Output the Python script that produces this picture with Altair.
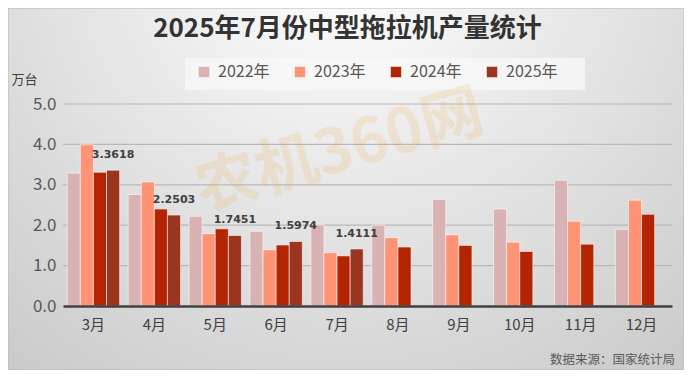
import altair as alt
import pandas as pd

months = ["3月", "4月", "5月", "6月", "7月", "8月", "9月", "10月", "11月", "12月"]
years = ["2022年", "2023年", "2024年", "2025年"]
v2022 = [3.29, 2.76, 2.22, 1.85, 2.01, 2.00, 2.64, 2.40, 3.11, 1.90]
v2023 = [3.99, 3.07, 1.79, 1.39, 1.32, 1.69, 1.76, 1.58, 2.10, 2.62]
v2024 = [3.31, 2.40, 1.91, 1.51, 1.24, 1.46, 1.50, 1.35, 1.53, 2.27]
v2025 = [3.3618, 2.2503, 1.7451, 1.5974, 1.4111]
colors = ["#d9b3b3", "#ff9375", "#b32400", "#9c3520"]
grid_values = [1, 2, 3, 4, 5]
title_text = "2025年7月份中型拖拉机产量统计"

rows = []
for series, yr in zip([v2022, v2023, v2024, v2025], years):
    for m, v in zip(months, series):
        rows.append({"月份": m, "年份": yr, "产量": v})
df = pd.DataFrame(rows)
lab = df[df["年份"] == "2025年"].copy()
lab["标签"] = lab["产量"].map(lambda v: f"{v:.4f}")

FONT = "Noto Sans CJK SC"
W, H = 609, 202
yscale = alt.Scale(domain=[0, 5])
yaxis = alt.Axis(values=[0] + grid_values, format=".1f", labelFontSize=17,
                 labelColor="#595959", labelFont=FONT, domain=False, ticks=False,
                 grid=False, zindex=2, labelPadding=7,
                 titleAngle=0, titleAlign="left", titleBaseline="bottom",
                 titleX=-52, titleY=-18, titleFontSize=13, titleFont=FONT,
                 titleFontWeight="normal", titleColor="#404040")

bg = alt.Chart(pd.DataFrame({"a": [1]})).mark_rect(
    fill=alt.Gradient(
        gradient="radial",
        stops=[alt.GradientStop(color="#ffffff", offset=0),
               alt.GradientStop(color="#c6c6c6", offset=1)],
        x1=0.5, y1=0.15, x2=0.5, y2=0.15, r1=0, r2=0.85,
    ),
    stroke="#b8b8b8", strokeWidth=1,
).encode(x=alt.value(-55), x2=alt.value(621), y=alt.value(-96), y2=alt.value(266))

grid = alt.Chart(pd.DataFrame({"g": grid_values})).mark_rule(
    color="#b8b8b8", strokeWidth=1.2
).encode(y=alt.Y("g:Q", scale=yscale, axis=yaxis, title="万台"),
         x=alt.value(0), x2=alt.value(W))

legend_box = alt.Chart(pd.DataFrame({"a": [1]})).mark_rect(
    fill="#f7f7f7", opacity=0.8
).encode(x=alt.value(122), x2=alt.value(522), y=alt.value(-46), y2=alt.value(-14))

bars = alt.Chart(df).mark_bar(stroke="#ffffff", strokeWidth=0.8, strokeOpacity=0.7).encode(
    x=alt.X("月份:N", sort=months, title=None,
            scale=alt.Scale(paddingInner=0.14, paddingOuter=0.07),
            axis=alt.Axis(labelAngle=0, labelFontSize=15, labelColor="#404040",
                          labelFont=FONT, labelPadding=11, ticks=False, zindex=2,
                          domainColor="#404040", domainWidth=2.5)),
    xOffset=alt.XOffset("年份:N", sort=years, scale=alt.Scale(paddingInner=0)),
    y=alt.Y("产量:Q", title="万台", scale=yscale, axis=yaxis),
    color=alt.Color("年份:N", sort=years,
                    scale=alt.Scale(domain=years, range=colors),
                    legend=alt.Legend(title=None, orient="none", direction="horizontal",
                                      legendX=133, legendY=-40, symbolType="square",
                                      symbolSize=110, symbolStrokeWidth=0,
                                      labelFontSize=16, labelColor="#595959",
                                      labelFont=FONT, columnPadding=22, labelOffset=6)),
)

wm = alt.Chart(pd.DataFrame({"t": ["农机360网"]})).mark_text(
    font=FONT, fontWeight="bold", fontSize=62, color="#f0a030",
    opacity=0.15, angle=344,
).encode(text="t:N", x=alt.value(277), y=alt.value(48))

labels = alt.Chart(lab).mark_text(
    fontSize=11, fontWeight="bold", color="#404040", dy=-15, font="DejaVu Sans"
).encode(
    x=alt.X("月份:N", sort=months),
    xOffset=alt.XOffset("年份:N", sort=years),
    y="产量:Q",
    text="标签:N",
)

title = alt.Chart(pd.DataFrame({"t": [title_text]})).mark_text(
    fontSize=26, font=FONT, fontWeight="bold", color="#333333", baseline="middle"
).encode(text="t:N", x=alt.value(W / 2 - 20), y=alt.value(-75))

source = alt.Chart(pd.DataFrame({"t": ["数据来源：国家统计局"]})).mark_text(
    align="right", fontSize=12.5, color="#595959", font=FONT
).encode(text="t:N", x=alt.value(612), y=alt.value(256))

chart = alt.layer(bg, grid, legend_box, bars, wm, labels, title, source).properties(
    width=W, height=H,
    autosize=alt.AutoSizeParams(type="none"),
    padding={"left": 55, "top": 96, "right": 12, "bottom": 64},
).configure_view(stroke=None).configure(background="#d0d0d0")

chart.save("out.html", embed_options={"renderer": "svg", "actions": False})
